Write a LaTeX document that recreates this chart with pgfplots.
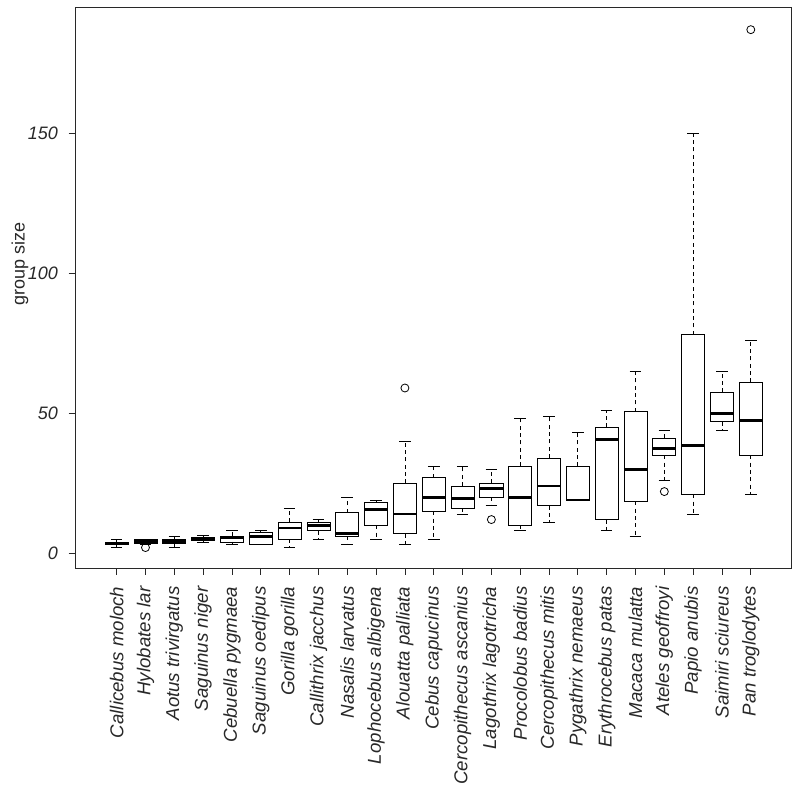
\documentclass[border=0pt]{standalone}
\usepackage{fontspec}
\setmainfont{Liberation Sans}
\usepackage{pgfplots}
\pgfplotsset{compat=1.18}
\usepgfplotslibrary{statistics}
\definecolor{ink}{RGB}{40,40,40}
\pgfplotsset{
  mybox/.style={
    black, solid, line width=0.6pt,
    mark=o, mark size=3pt, mark options={solid, line width=0.6pt, black},
    boxplot/draw direction=y,
    boxplot/box extend=0.8,
    boxplot/whisker extend=0.4,
    boxplot/every median/.style={line width=2.2pt},
    boxplot/draw/lower whisker/.code={
      \draw[dash pattern=on 3pt off 2.5pt] (boxplot box cs:\pgfplotsboxplotvalue{lower quartile},0.5) -- (boxplot box cs:\pgfplotsboxplotvalue{lower whisker},0.5);
      \draw (boxplot whisker cs:\pgfplotsboxplotvalue{lower whisker},0) -- (boxplot whisker cs:\pgfplotsboxplotvalue{lower whisker},1);
    },
    boxplot/draw/upper whisker/.code={
      \draw[dash pattern=on 3pt off 2.5pt] (boxplot box cs:\pgfplotsboxplotvalue{upper quartile},0.5) -- (boxplot box cs:\pgfplotsboxplotvalue{upper whisker},0.5);
      \draw (boxplot whisker cs:\pgfplotsboxplotvalue{upper whisker},0) -- (boxplot whisker cs:\pgfplotsboxplotvalue{upper whisker},1);
    },
  },
}
\begin{document}
\begin{tikzpicture}
\begin{axis}[
  at={(0,0)}, anchor=south west,
  scale only axis, width=537pt, height=420.75pt,
  xmin=-0.42, xmax=24.42, ymin=-5.3, ymax=195.1,
  axis line style={ink, line width=0.6pt},
  tick style={ink, line width=0.6pt},
  tick align=outside, major tick length=5.25pt,
  xtick pos=bottom, ytick pos=left,
  xtick={1,...,23},
  xticklabels={Callicebus moloch, Hylobates lar, Aotus trivirgatus, Saguinus niger, Cebuella pygmaea, Saguinus oedipus, Gorilla gorilla, Callithrix jacchus, Nasalis larvatus, Lophocebus albigena, Alouatta palliata, Cebus capucinus, Cercopithecus ascanius, Lagothrix lagotricha, Procolobus badius, Cercopithecus mitis, Pygathrix nemaeus, Erythrocebus patas, Macaca mulatta, Ateles geoffroyi, Papio anubis, Saimiri sciureus, Pan troglodytes},
  xticklabel style={rotate=90, anchor=east, inner sep=0pt, font=\fontsize{14}{14}\selectfont\itshape, text=ink},
  xticklabel shift=8.5pt,
  ytick={0,50,100,150},
  /pgf/number format/assume math mode=true,
  yticklabel style={anchor=east, inner sep=0pt, font=\fontsize{13.5}{13.5}\selectfont\itshape, text=ink},
  yticklabel shift=8pt,
  ylabel={group size},
  ylabel style={at={(axis description cs:-0.0778,0.542)}, anchor=center, font=\fontsize{13.5}{13.5}\selectfont, text=ink},
]
% 1 Callicebus moloch
\addplot[mybox, boxplot prepared={draw position=1, lower whisker=2, lower quartile=3, median=3.5, upper quartile=4, upper whisker=5}] coordinates {};
% 2 Hylobates lar
\addplot[mybox, boxplot prepared={draw position=2, lower whisker=3, lower quartile=3.5, median=4, upper quartile=5, upper whisker=5}] table[row sep=\\, y index=0] {data\\ 2\\};
% 3 Aotus trivirgatus
\addplot[mybox, boxplot prepared={draw position=3, lower whisker=2, lower quartile=3.5, median=4, upper quartile=5, upper whisker=6}] coordinates {};
% 4 Saguinus niger
\addplot[mybox, boxplot prepared={draw position=4, lower whisker=4, lower quartile=4.5, median=5.2, upper quartile=5.8, upper whisker=6.2}] coordinates {};
% 5 Cebuella pygmaea
\addplot[mybox, boxplot prepared={draw position=5, lower whisker=3, lower quartile=4, median=5.5, upper quartile=6, upper whisker=8}] coordinates {};
% 6 Saguinus oedipus
\addplot[mybox, boxplot prepared={draw position=6, lower whisker=3, lower quartile=3, median=6, upper quartile=7.5, upper whisker=8}] coordinates {};
% 7 Gorilla gorilla
\addplot[mybox, boxplot prepared={draw position=7, lower whisker=2, lower quartile=5, median=9, upper quartile=11, upper whisker=16}] coordinates {};
% 8 Callithrix jacchus
\addplot[mybox, boxplot prepared={draw position=8, lower whisker=5, lower quartile=8, median=10, upper quartile=11, upper whisker=12}] coordinates {};
% 9 Nasalis larvatus
\addplot[mybox, boxplot prepared={draw position=9, lower whisker=3, lower quartile=6, median=7, upper quartile=14.5, upper whisker=20}] coordinates {};
% 10 Lophocebus albigena
\addplot[mybox, boxplot prepared={draw position=10, lower whisker=5, lower quartile=10, median=15.5, upper quartile=18, upper whisker=19}] coordinates {};
% 11 Alouatta palliata
\addplot[mybox, boxplot prepared={draw position=11, lower whisker=3, lower quartile=7, median=14, upper quartile=25, upper whisker=40}] table[row sep=\\, y index=0] {data\\ 59\\};
% 12 Cebus capucinus
\addplot[mybox, boxplot prepared={draw position=12, lower whisker=5, lower quartile=15, median=20, upper quartile=27, upper whisker=31}] coordinates {};
% 13 Cercopithecus ascanius
\addplot[mybox, boxplot prepared={draw position=13, lower whisker=14, lower quartile=16, median=19.5, upper quartile=24, upper whisker=31}] coordinates {};
% 14 Lagothrix lagotricha
\addplot[mybox, boxplot prepared={draw position=14, lower whisker=17, lower quartile=20, median=23, upper quartile=25, upper whisker=30}] table[row sep=\\, y index=0] {data\\ 12\\};
% 15 Procolobus badius
\addplot[mybox, boxplot prepared={draw position=15, lower whisker=8, lower quartile=10, median=20, upper quartile=31, upper whisker=48}] coordinates {};
% 16 Cercopithecus mitis
\addplot[mybox, boxplot prepared={draw position=16, lower whisker=11, lower quartile=17, median=24, upper quartile=34, upper whisker=49}] coordinates {};
% 17 Pygathrix nemaeus
\addplot[mybox, boxplot prepared={draw position=17, lower whisker=19, lower quartile=19, median=19, upper quartile=31, upper whisker=43}] coordinates {};
% 18 Erythrocebus patas
\addplot[mybox, boxplot prepared={draw position=18, lower whisker=8, lower quartile=12, median=40.5, upper quartile=45, upper whisker=51}] coordinates {};
% 19 Macaca mulatta
\addplot[mybox, boxplot prepared={draw position=19, lower whisker=6, lower quartile=18.5, median=30, upper quartile=50.5, upper whisker=65}] coordinates {};
% 20 Ateles geoffroyi
\addplot[mybox, boxplot prepared={draw position=20, lower whisker=26, lower quartile=35, median=37.5, upper quartile=41, upper whisker=44}] table[row sep=\\, y index=0] {data\\ 22\\};
% 21 Papio anubis
\addplot[mybox, boxplot prepared={draw position=21, lower whisker=14, lower quartile=21, median=38.5, upper quartile=78, upper whisker=150}] coordinates {};
% 22 Saimiri sciureus
\addplot[mybox, boxplot prepared={draw position=22, lower whisker=44, lower quartile=47, median=50, upper quartile=57.5, upper whisker=65}] coordinates {};
% 23 Pan troglodytes
\addplot[mybox, boxplot prepared={draw position=23, lower whisker=21, lower quartile=35, median=47.5, upper quartile=61, upper whisker=76}] table[row sep=\\, y index=0] {data\\ 187\\};
\end{axis}
\pgfresetboundingbox
\path (-56.8pt,-170.25pt) rectangle (543.2pt,426pt);
\end{tikzpicture}
\end{document}
